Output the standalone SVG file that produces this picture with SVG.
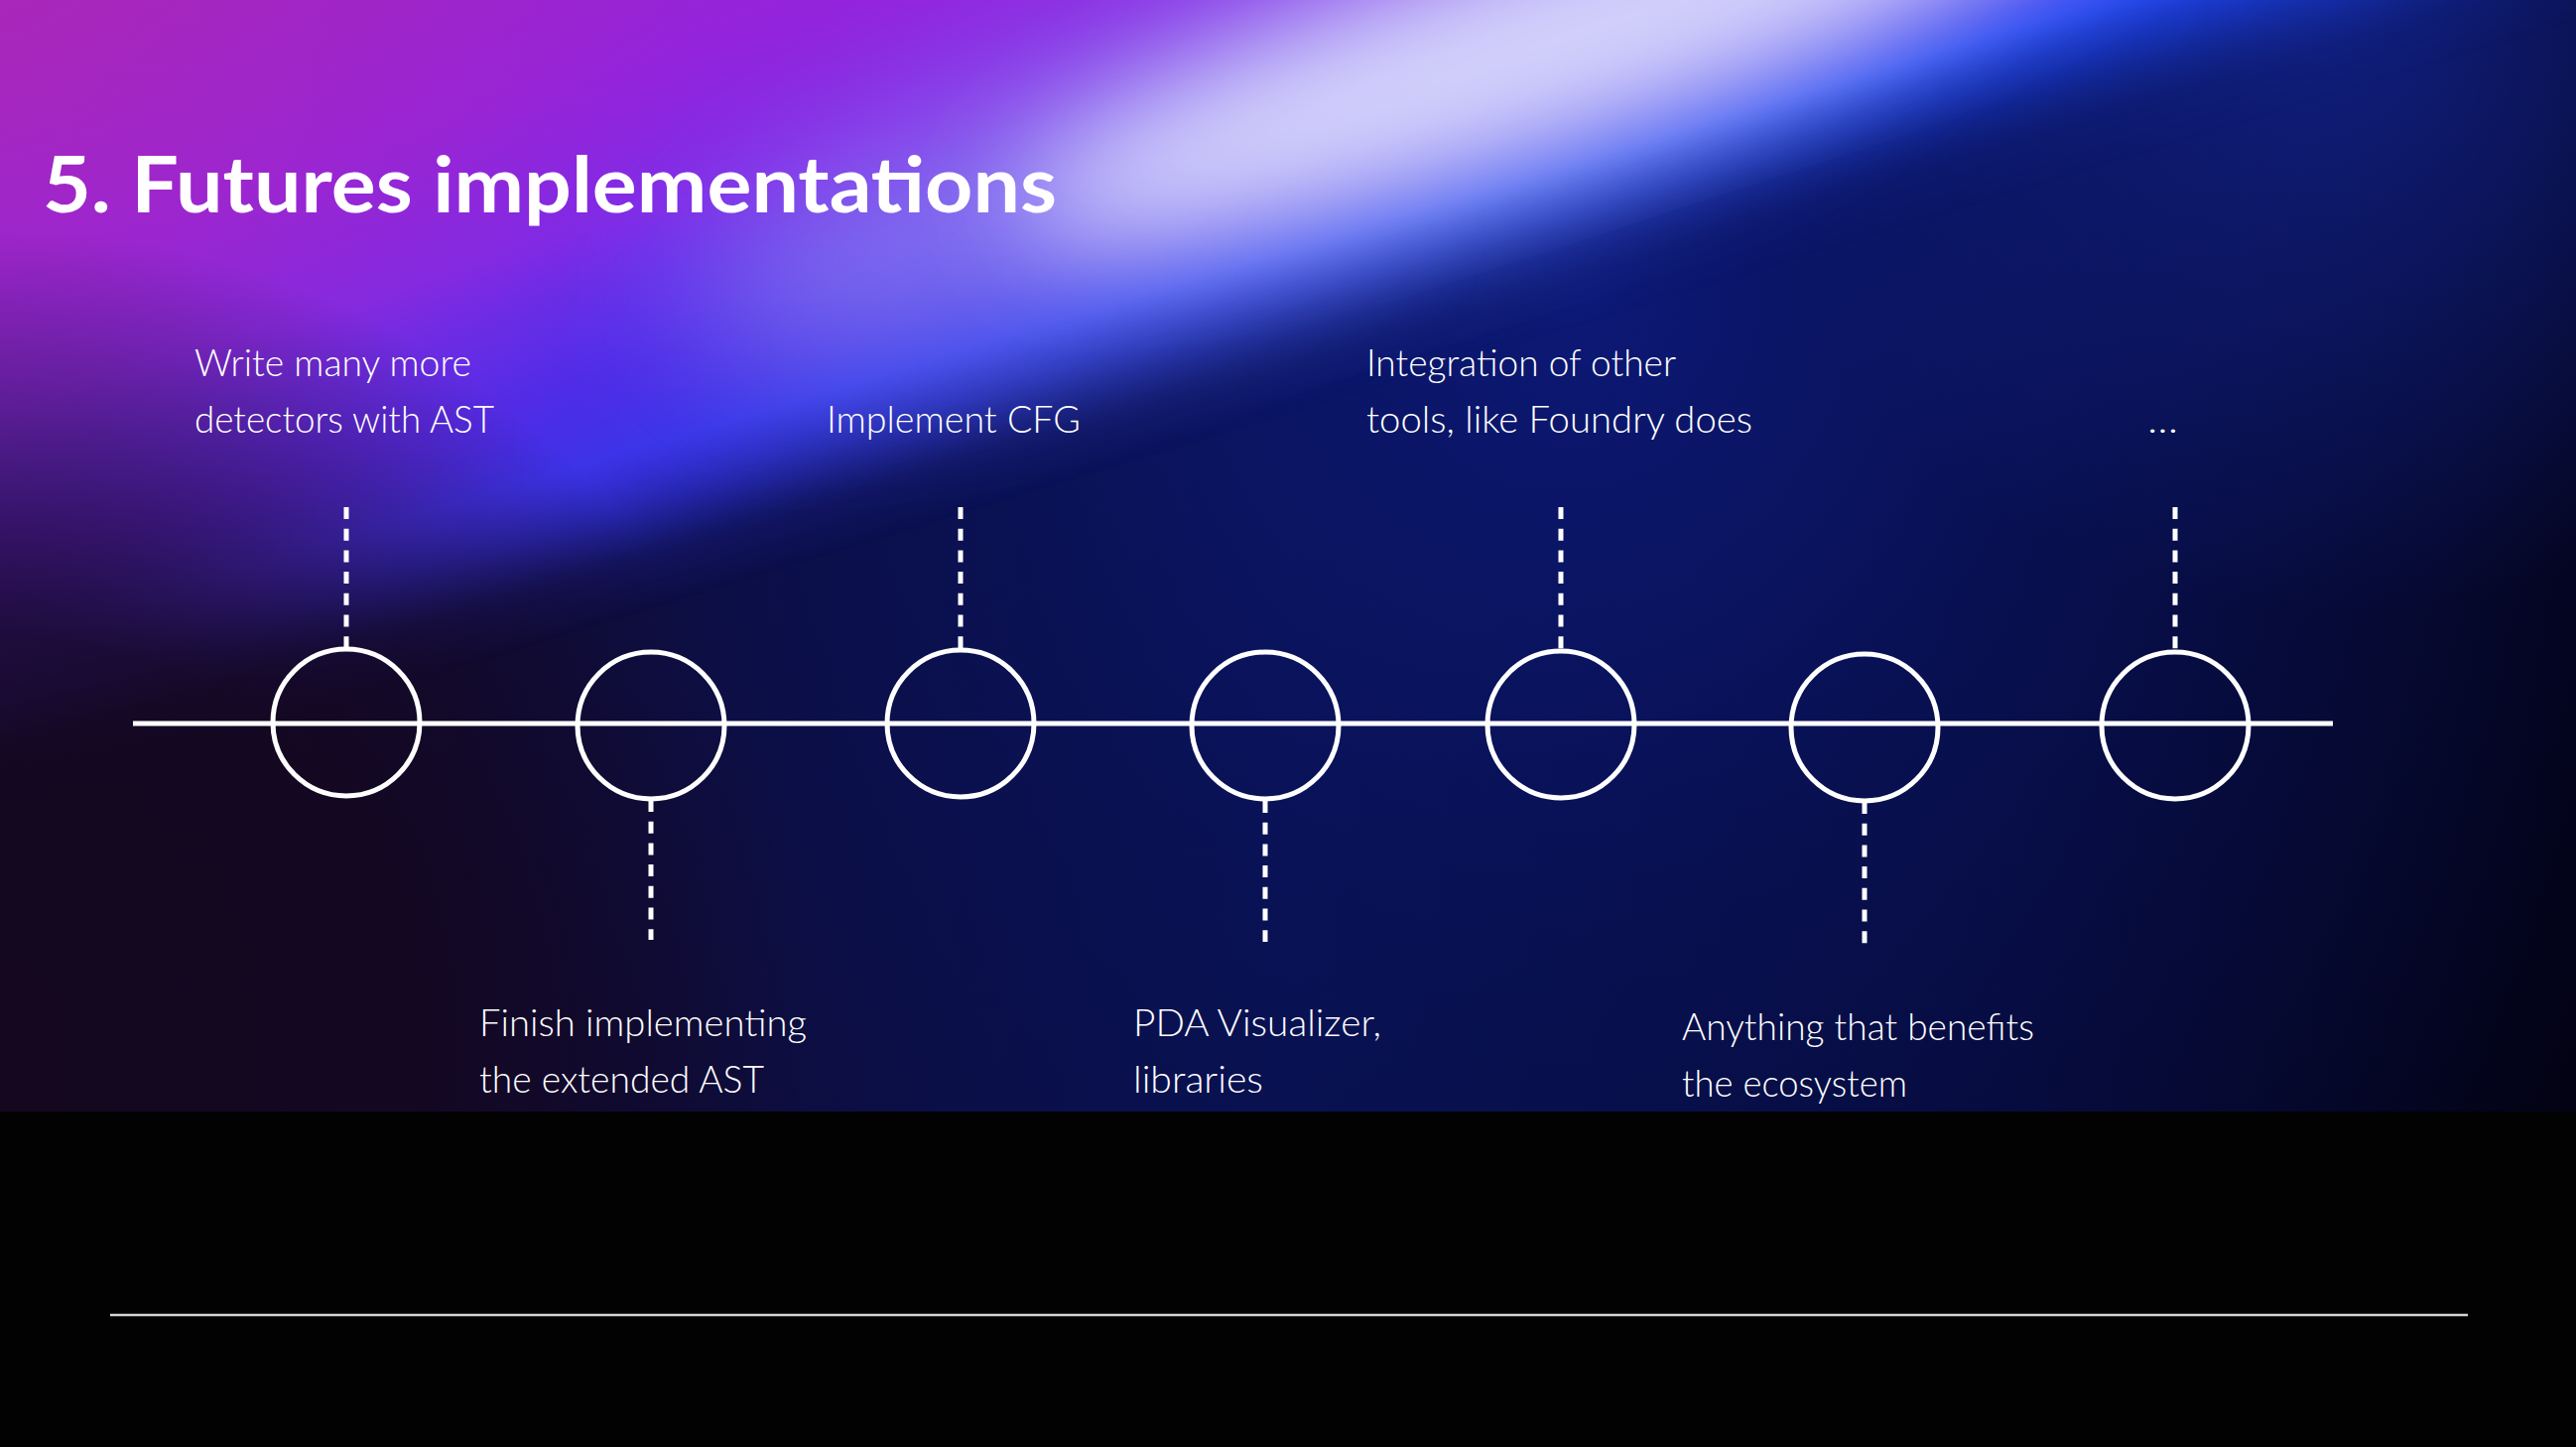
<svg xmlns="http://www.w3.org/2000/svg" width="2596" height="1458" viewBox="0 0 2596 1458">
  <style>
    .title { font-family: Lato, "Open Sans", "Liberation Sans", sans-serif; font-weight: 700; font-size: 78px; fill: #ffffff; }
    .label { font-family: Lato, "Open Sans", "Liberation Sans", sans-serif; font-weight: 300; font-size: 37px; fill: #ffffff; }
    .axis { stroke: #ffffff; stroke-width: 5; fill: none; }
    .node { stroke: #ffffff; stroke-width: 5; fill: none; }
    .stem { stroke: #ffffff; stroke-width: 5; stroke-dasharray: 12 9.7; fill: none; }
    .rule { stroke: #d4d4d4; stroke-width: 2.5; }
  </style>
  <defs>
    <!-- dark backdrop: purple-black on the left, navy in the middle, near black on the right -->
    <linearGradient id="base" x1="0" y1="0" x2="2596" y2="0" gradientUnits="userSpaceOnUse">
      <stop offset="0" stop-color="#170a2a"/>
      <stop offset="0.25" stop-color="#0e0c3a"/>
      <stop offset="0.5" stop-color="#08104a"/>
      <stop offset="0.78" stop-color="#050932"/>
      <stop offset="1" stop-color="#030214"/>
    </linearGradient>
    <radialGradient id="navyGlow" cx="1600" cy="300" r="1250" gradientUnits="userSpaceOnUse">
      <stop offset="0" stop-color="#0d1a7c" stop-opacity="0.9"/>
      <stop offset="0.55" stop-color="#0a1462" stop-opacity="0.45"/>
      <stop offset="1" stop-color="#0a1462" stop-opacity="0"/>
    </radialGradient>
    <radialGradient id="navyCorner" cx="2350" cy="0" r="620" gradientUnits="userSpaceOnUse">
      <stop offset="0" stop-color="#12228a" stop-opacity="0.85"/>
      <stop offset="1" stop-color="#12228a" stop-opacity="0"/>
    </radialGradient>
    <!-- colour field across the diagonal (perpendicular to a ~17 degree slope) -->
    <linearGradient id="field" x1="0" y1="0" x2="292" y2="956" gradientUnits="userSpaceOnUse">
      <stop offset="0" stop-color="#a024c4"/>
      <stop offset="0.25" stop-color="#9424dc"/>
      <stop offset="0.40" stop-color="#7c2ae8"/>
      <stop offset="0.50" stop-color="#5e34ee"/>
      <stop offset="0.58" stop-color="#3c3cee"/>
      <stop offset="0.63" stop-color="#2448f0"/>
      <stop offset="0.67" stop-color="#1c40e0"/>
      <stop offset="0.74" stop-color="#12289a"/>
    </linearGradient>
    <linearGradient id="fade" x1="0" y1="0" x2="292" y2="956" gradientUnits="userSpaceOnUse">
      <stop offset="0" stop-color="#ffffff"/>
      <stop offset="0.62" stop-color="#ffffff"/>
      <stop offset="0.67" stop-color="#ffffff" stop-opacity="0.6"/>
      <stop offset="0.73" stop-color="#ffffff" stop-opacity="0.15"/>
      <stop offset="0.78" stop-color="#ffffff" stop-opacity="0"/>
    </linearGradient>
    <mask id="fieldMask">
      <rect x="0" y="0" width="2596" height="1120" fill="url(#fade)"/>
    </mask>
    <!-- violet cast over the left part of the blue band only -->
    <linearGradient id="violet" x1="0" y1="0" x2="1500" y2="0" gradientUnits="userSpaceOnUse">
      <stop offset="0" stop-color="#6a1ee0" stop-opacity="0.7"/>
      <stop offset="0.5" stop-color="#4a22e0" stop-opacity="0.45"/>
      <stop offset="1" stop-color="#4a22e0" stop-opacity="0"/>
    </linearGradient>
    <linearGradient id="bandFade" x1="0" y1="0" x2="292" y2="956" gradientUnits="userSpaceOnUse">
      <stop offset="0.40" stop-color="#ffffff" stop-opacity="0"/>
      <stop offset="0.54" stop-color="#ffffff" stop-opacity="1"/>
      <stop offset="0.64" stop-color="#ffffff" stop-opacity="1"/>
      <stop offset="0.72" stop-color="#ffffff" stop-opacity="0.2"/>
      <stop offset="0.78" stop-color="#ffffff" stop-opacity="0"/>
    </linearGradient>
    <mask id="bandMask">
      <rect x="0" y="0" width="2596" height="1120" fill="url(#bandFade)"/>
    </mask>
    <radialGradient id="magenta" cx="0" cy="0" r="700" gradientUnits="userSpaceOnUse">
      <stop offset="0" stop-color="#b22aae" stop-opacity="0.5"/>
      <stop offset="1" stop-color="#b22aae" stop-opacity="0"/>
    </radialGradient>
    <radialGradient id="lowLeft" cx="0" cy="1050" r="820" gradientUnits="userSpaceOnUse">
      <stop offset="0" stop-color="#14071f" stop-opacity="1"/>
      <stop offset="0.5" stop-color="#14071f" stop-opacity="0.85"/>
      <stop offset="1" stop-color="#14071f" stop-opacity="0"/>
    </radialGradient>
    <filter id="soft" x="-50%" y="-50%" width="200%" height="200%">
      <feGaussianBlur stdDeviation="75"/>
    </filter>
    <filter id="softer" x="-50%" y="-50%" width="200%" height="200%">
      <feGaussianBlur stdDeviation="55"/>
    </filter>
  </defs>

  <!-- backdrop -->
  <g id="backdrop">
    <rect x="0" y="0" width="2596" height="1120" fill="url(#base)"/>
    <rect x="0" y="0" width="2596" height="1120" fill="url(#navyGlow)"/>
    <rect x="0" y="0" width="2596" height="1120" fill="url(#navyCorner)"/>
    <rect x="0" y="0" width="2596" height="1120" fill="url(#field)" mask="url(#fieldMask)"/>
    <rect x="0" y="0" width="2596" height="1120" fill="url(#violet)" mask="url(#bandMask)"/>
    <rect x="0" y="0" width="2596" height="1120" fill="url(#magenta)"/>
    <rect x="0" y="0" width="2596" height="1120" fill="url(#lowLeft)"/>
    <!-- pale light beam running up to the right -->
    <ellipse cx="1320" cy="120" rx="660" ry="130" fill="#a8a8f4" opacity="0.55" transform="rotate(-18 1320 120)" filter="url(#soft)"/>
    <ellipse cx="1600" cy="30" rx="600" ry="100" fill="#dcdcfc" opacity="0.92" transform="rotate(-18 1600 30)" filter="url(#softer)"/>
    <rect x="0" y="1120" width="2596" height="338" fill="#020203"/>
  </g>

  <text class="title" x="43" y="214" textLength="1022" lengthAdjust="spacingAndGlyphs">5. Futures implementations</text>

  <!-- timeline axis and dashed stems -->
  <g id="connectors">
    <line class="axis" x1="134" y1="729" x2="2351" y2="729"/>
    <line class="stem" x1="349" y1="511" x2="349" y2="654"/>
    <line class="stem" x1="968" y1="511" x2="968" y2="654"/>
    <line class="stem" x1="1573" y1="511" x2="1573" y2="655"/>
    <line class="stem" x1="2192" y1="511" x2="2192" y2="656"/>
    <line class="stem" x1="656" y1="806" x2="656" y2="947"/>
    <line class="stem" x1="1275" y1="807" x2="1275" y2="949"/>
    <line class="stem" x1="1879" y1="808" x2="1879" y2="951"/>
  </g>

  <g id="node-ast-detectors">
    <circle class="node" cx="349" cy="728" r="74"/>
    <text class="label" x="196" y="379" textLength="279" lengthAdjust="spacingAndGlyphs">Write many more</text>
    <text class="label" x="196" y="436" textLength="302" lengthAdjust="spacingAndGlyphs">detectors with AST</text>
  </g>
  <g id="node-extended-ast">
    <circle class="node" cx="656" cy="731" r="74"/>
    <text class="label" x="483" y="1044" textLength="330" lengthAdjust="spacingAndGlyphs">Finish implementing</text>
    <text class="label" x="483" y="1101" textLength="287" lengthAdjust="spacingAndGlyphs">the extended AST</text>
  </g>
  <g id="node-cfg">
    <circle class="node" cx="968" cy="729" r="74"/>
    <text class="label" x="833" y="436" textLength="256" lengthAdjust="spacingAndGlyphs">Implement CFG</text>
  </g>
  <g id="node-pda">
    <circle class="node" cx="1275" cy="731" r="74"/>
    <text class="label" x="1142" y="1044" textLength="250" lengthAdjust="spacingAndGlyphs">PDA Visualizer,</text>
    <text class="label" x="1142" y="1101" textLength="131" lengthAdjust="spacingAndGlyphs">libraries</text>
  </g>
  <g id="node-integration">
    <circle class="node" cx="1573" cy="730" r="74"/>
    <text class="label" x="1377" y="379" textLength="312" lengthAdjust="spacingAndGlyphs">Integration of other</text>
    <text class="label" x="1377" y="436" textLength="389" lengthAdjust="spacingAndGlyphs">tools, like Foundry does</text>
  </g>
  <g id="node-ecosystem">
    <circle class="node" cx="1879" cy="733" r="74"/>
    <text class="label" x="1695" y="1048" textLength="355" lengthAdjust="spacingAndGlyphs">Anything that benefits</text>
    <text class="label" x="1695" y="1105" textLength="227" lengthAdjust="spacingAndGlyphs">the ecosystem</text>
  </g>
  <g id="node-more">
    <circle class="node" cx="2192" cy="731" r="74"/>
    <text class="label" x="2164" y="436" textLength="31" lengthAdjust="spacingAndGlyphs">...</text>
  </g>

  <line class="rule" x1="111" y1="1325" x2="2487" y2="1325"/>
</svg>
